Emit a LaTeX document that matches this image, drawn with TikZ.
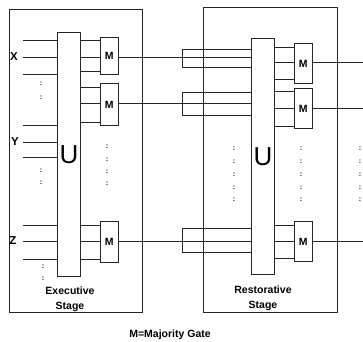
\documentclass[tikz,border=0pt]{standalone}
\usepackage{fontspec}
\setmainfont{Liberation Sans}
\usetikzlibrary{positioning,calc}
\tikzset{
  wire/.style={draw=black!85, line width=0.8pt},
  stagebox/.style={wire, anchor=north west, inner sep=0pt},
  unitbar/.style={wire, anchor=north west, inner sep=0pt, minimum width=23pt, font=\fontsize{26}{26}\selectfont},
  mgate/.style={wire, anchor=north west, inner sep=0pt, minimum width=17.5pt, font=\fontsize{10.5}{10.5}\selectfont\bfseries},
  sig/.style={font=\fontsize{11.5}{11.5}\selectfont\bfseries, inner sep=0pt},
  colons/.style={font=\fontsize{7}{#1}\selectfont\bfseries, align=center, inner sep=0pt},
  caption/.style={font=\fontsize{10.5}{15}\selectfont\bfseries, align=center, inner sep=0pt}
}
\begin{document}
\begin{tikzpicture}[x=1pt, y=-1pt]
  \useasboundingbox (0,0) rectangle (363,341);
  % stages
  \node[stagebox, minimum width=133pt, minimum height=303pt] (exec) at (9,9) {};
  \node[stagebox, minimum width=134pt, minimum height=305pt] (rest) at (203,7) {};
  \node[unitbar, minimum height=244pt] (U1) at (57,32) {U};
  \node[unitbar, minimum height=236pt] (U2) at (251,38) {U};
  % majority gates
  \node[mgate, minimum height=37pt] (M1) at (100,37) {M};
  \node[mgate, minimum height=42pt] (M2) at (100,83) {M};
  \node[mgate, minimum height=41pt] (M3) at (100,221) {M};
  \node[mgate, minimum height=40pt] (M4) at (294,43) {M};
  \node[mgate, minimum height=40pt] (M5) at (294,88) {M};
  \node[mgate, minimum height=40pt] (M6) at (294,221) {M};
  % inputs
  \foreach \yy in {40,57,74,125,142,157,225,241,259}
    \draw[wire] (U1.west |- 0,\yy) -- ++(-34,0);
  \node[sig] (X) at (14,57) {X};
  \node[sig] (Y) at (15,142) {Y};
  \node[sig] (Z) at (13,241) {Z};
  % U to M
  \foreach \yy/\mm in {40/M1,57/M1,71/M1,87/M2,103/M2,122/M2,225/M3,241/M3,259/M3}
    \draw[wire] (U1.east |- 0,\yy) -- (\mm.west |- 0,\yy);
  \foreach \yy/\mm in {47/M4,62/M4,79/M4,91/M5,108/M5,126/M5,225/M6,241/M6,258/M6}
    \draw[wire] (U2.east |- 0,\yy) -- (\mm.west |- 0,\yy);
  % triplicated lines into the restorative stage
  \foreach \mm/\yy/\ya/\yb in {M1/57/49/67, M2/103/92/115, M3/241/228/252}{
    \draw[wire] (\mm.east |- 0,\yy) -- (U2.west |- 0,\yy);
    \draw[wire] (U2.west |- 0,\ya) -- (182,\ya) -- (182,\yb) -- (U2.west |- 0,\yb);
  }
  % outputs
  \foreach \mm/\yy in {M4/62, M5/108, M6/241}
    \draw[wire] (\mm.east |- 0,\yy) -- (363,\yy);
  % dots
  \node[colons=14] (dxy) at (41,91) {:\\:};
  \node[colons=12] (dyz) at (41,177) {:\\:};
  \node[colons=12] (dz) at (43,273) {:\\:};
  \node[colons=12.3] (dm1) at (107,165.5) {:\\:\\:\\:};
  \node[colons=12.75] (dm2) at (234,174.5) {:\\:\\:\\:\\:};
  \node[colons=12.75] (dm3) at (301,174.5) {:\\:\\:\\:\\:};
  \node[colons=12.75] (dm4) at (360,174.5) {:\\:\\:\\:\\:};
  % captions
  \node[caption] (execlbl) at (70,299.5) {Executive\\Stage};
  \node[caption] (restlbl) at (263,298.5) {Restorative\\Stage};
  \node[caption] (legend) at (170,335) {M=Majority Gate};
\end{tikzpicture}
\end{document}
